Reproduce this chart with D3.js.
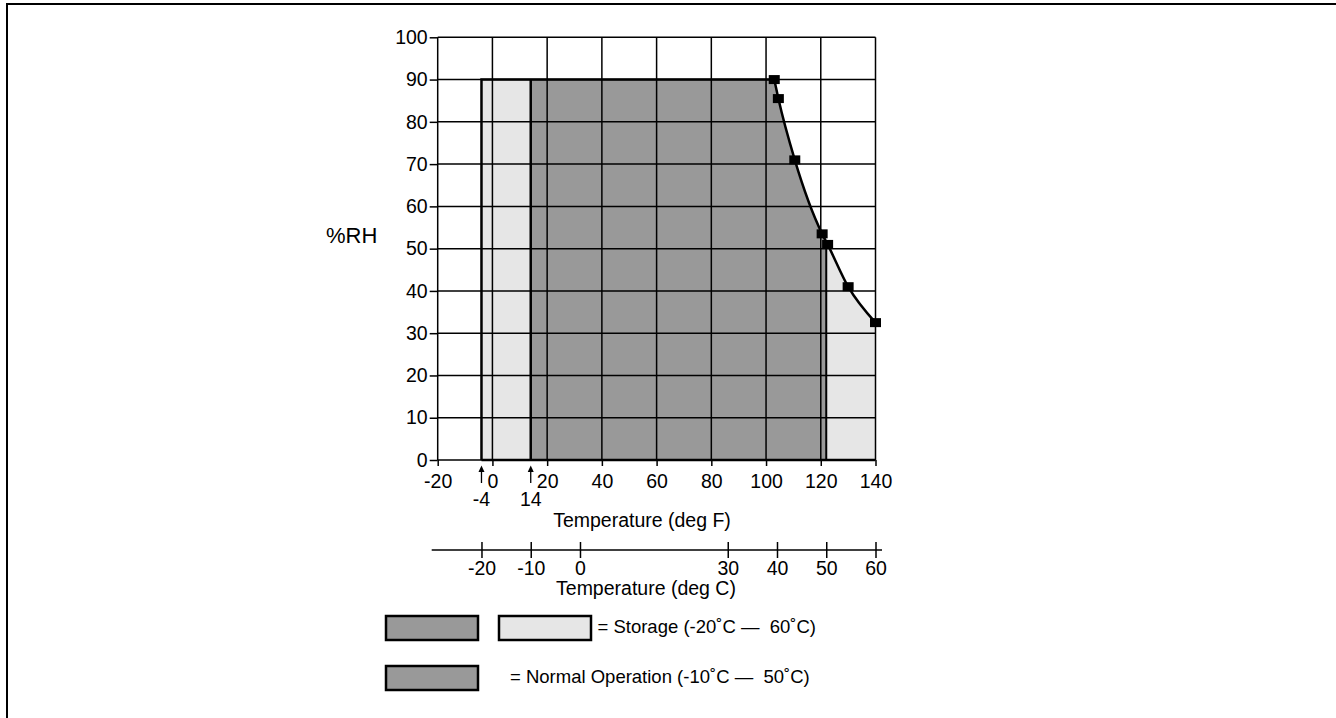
<!DOCTYPE html>
<html>
<head>
<meta charset="utf-8">
<script src="https://cdn.jsdelivr.net/npm/d3@7"></script>
<style>
  body { margin: 0; background: #fff; }
  svg { display: block; font-family: Arial, "Liberation Sans", sans-serif; }
</style>
</head>
<body>
<script>
// axis ticks
var fahrenheitTicks = [-20, 0, 20, 40, 60, 80, 100, 120, 140];
var celsiusTicks = [-20, -10, 0, 30, 40, 50, 60];
var rhTicks = [0, 10, 20, 30, 40, 50, 60, 70, 80, 90, 100];
var arrowMarks = [-4, 14];   // deg F, marked under the axis

// humidity limit curve (deg F, %RH)
var curveTemp = [103, 104.5, 110.5, 120.5, 122.5, 130, 140];
var curveRH = [90, 85.5, 71, 53.5, 51, 41, 32.5];

// envelopes in deg F
var storageRange = [-4, 140];
var operationRange = [14, 122];
var maxRH = 90;

var legendLabels = ["= Storage (-20\u02DAC \u2014  60\u02DAC)", "= Normal Operation (-10\u02DAC \u2014  50\u02DAC)"];

var darkFill = "#999999", lightFill = "#e6e6e6";

var svg = d3.select("body").append("svg")
    .attr("width", 1336)
    .attr("height", 718);

// outer frame (only top and left edges show)
svg.append("path")
    .attr("d", "M7,720V4H1340")
    .attr("fill", "none")
    .attr("stroke", "#000")
    .attr("stroke-width", 2);

var x = d3.scaleLinear().domain([-20, 140]).range([437.7, 875.5]);
var y = d3.scaleLinear().domain([0, 100]).range([460, 37.3]);
var toF = function(c) { return c * 9 / 5 + 32; };
var plain = function(d) { return String(d); };  // hyphen minus like the original

var pts = curveTemp.map(function(t, i) { return [t, curveRH[i]]; });

var line = d3.line()
    .x(function(d) { return x(d[0]); })
    .y(function(d) { return y(d[1]); })
    .curve(d3.curveMonotoneX);

var curvePath = line(pts);
// region under the curve, from the storage low limit up to 90%
var underPath = "M" + x(storageRange[0]) + "," + y(0) +
    "L" + x(storageRange[0]) + "," + y(maxRH) +
    "L" + curvePath.slice(1) +
    "L" + x(storageRange[1]) + "," + y(0) + "Z";

svg.append("clipPath").attr("id", "under")
  .append("path").attr("d", underPath);

var fills = svg.append("g").attr("clip-path", "url(#under)");
fills.append("rect")
    .attr("x", x(storageRange[0])).attr("y", y(maxRH))
    .attr("width", x(storageRange[1]) - x(storageRange[0]))
    .attr("height", y(0) - y(maxRH))
    .attr("fill", lightFill);
fills.append("rect")
    .attr("x", x(operationRange[0])).attr("y", y(maxRH))
    .attr("width", x(operationRange[1]) - x(operationRange[0]))
    .attr("height", y(0) - y(maxRH))
    .attr("fill", darkFill);
fills.append("line")
    .attr("x1", x(operationRange[1])).attr("x2", x(operationRange[1]))
    .attr("y1", y(0)).attr("y2", y(100))
    .attr("stroke", "#000").attr("stroke-width", 2);

// grid
var grid = svg.append("g").attr("stroke", "#000").attr("stroke-width", 1.5);
grid.selectAll(".v").data(fahrenheitTicks).enter().append("line")
    .attr("x1", d => x(d)).attr("x2", d => x(d))
    .attr("y1", y(0)).attr("y2", y(100));
grid.selectAll(".h").data(rhTicks).enter().append("line")
    .attr("x1", x(-20)).attr("x2", x(140))
    .attr("y1", d => y(d)).attr("y2", d => y(d));

// envelope borders
var borders = svg.append("g").attr("stroke", "#000").attr("stroke-width", 2.5).attr("fill", "none");
borders.append("path")
    .attr("d", "M" + x(storageRange[0]) + "," + y(0) + "V" + y(maxRH) + "H" + x(curveTemp[0]));
borders.append("path")
    .attr("d", "M" + x(operationRange[0]) + "," + y(0) + "V" + y(maxRH));
borders.append("path")
    .attr("d", "M" + x(storageRange[0]) + "," + y(0) + "H" + x(140));

var fontSize = 19.5;

// y axis
var yAxis = svg.append("g")
    .attr("transform", "translate(" + x(-20) + ",0)")
    .call(d3.axisLeft(y).tickValues(rhTicks).tickFormat(plain).tickSize(8).tickPadding(2));
yAxis.select(".domain").remove();
yAxis.selectAll("line").attr("stroke-width", 1.5);
yAxis.selectAll("text").attr("font-size", fontSize).attr("font-family", null).attr("fill", "#000");

// x axis (deg F)
var xAxis = svg.append("g")
    .attr("transform", "translate(0," + y(0) + ")")
    .call(d3.axisBottom(x).tickValues(fahrenheitTicks).tickFormat(plain).tickSize(6).tickPadding(8));
xAxis.select(".domain").remove();
xAxis.selectAll("line").attr("stroke-width", 1.5);
xAxis.selectAll("text").attr("font-size", fontSize).attr("font-family", null).attr("fill", "#000");

// arrows for -4 / 14
var arrows = svg.append("g");
arrowMarks.forEach(function(f) {
    var ax = x(f);
    arrows.append("line")
        .attr("x1", ax).attr("x2", ax).attr("y1", 483).attr("y2", 470)
        .attr("stroke", "#000").attr("stroke-width", 1.3);
    arrows.append("path")
        .attr("d", "M" + ax + ",465.5L" + (ax - 3) + ",472L" + (ax + 3) + ",472Z")
        .attr("fill", "#000");
    arrows.append("text")
        .attr("x", ax).attr("y", 506)
        .attr("text-anchor", "middle")
        .attr("font-size", fontSize)
        .text(plain(f));
});

svg.append("text")
    .attr("x", 642).attr("y", 527)
    .attr("text-anchor", "middle")
    .attr("font-size", fontSize)
    .text("Temperature (deg F)");

// celsius axis, placed on the same positions as the F scale
var c = d3.scaleLinear().domain([-20, 60]).range([x(toF(-20)), x(toF(60))]);
var cAxis = svg.append("g")
    .attr("transform", "translate(0,550)")
    .call(d3.axisBottom(c).tickValues(celsiusTicks).tickFormat(plain).tickSize(8).tickPadding(3));
cAxis.select(".domain").remove();
cAxis.selectAll("line").attr("y1", -8).attr("stroke-width", 1.5);
cAxis.selectAll("text").attr("font-size", fontSize).attr("font-family", null).attr("fill", "#000");
cAxis.append("line")
    .attr("x1", 431.7).attr("x2", 882)
    .attr("stroke", "#000").attr("stroke-width", 1.5);

svg.append("text")
    .attr("x", 646).attr("y", 595)
    .attr("text-anchor", "middle")
    .attr("font-size", fontSize)
    .text("Temperature (deg C)");

svg.append("text")
    .attr("x", 326).attr("y", 243)
    .attr("font-size", 22)
    .text("%RH");

// curve and markers
svg.append("path")
    .attr("d", curvePath)
    .attr("fill", "none")
    .attr("stroke", "#000")
    .attr("stroke-width", 2.5);

svg.append("g").selectAll("rect")
    .data(pts)
    .enter().append("rect")
    .attr("x", d => x(d[0]) - 5.5)
    .attr("y", d => y(d[1]) - 4.5)
    .attr("width", 11)
    .attr("height", 9)
    .attr("fill", "#000");

// legend
var legend = svg.append("g");
var boxes = [
    { x: 386, y: 616, fill: darkFill },
    { x: 499, y: 616, fill: lightFill },
    { x: 386, y: 666, fill: darkFill }
];
legend.selectAll("rect").data(boxes).enter().append("rect")
    .attr("x", d => d.x).attr("y", d => d.y)
    .attr("width", 92).attr("height", 24)
    .attr("fill", d => d.fill)
    .attr("stroke", "#000")
    .attr("stroke-width", 2.5);

var labelX = [597.5, 510];
legend.selectAll("text").data(legendLabels).enter().append("text")
    .attr("x", (d, i) => labelX[i])
    .attr("y", (d, i) => 633 + i * 50)
    .attr("font-size", 18.5)
    .style("white-space", "pre")
    .text(d => d);
</script>
</body>
</html>
